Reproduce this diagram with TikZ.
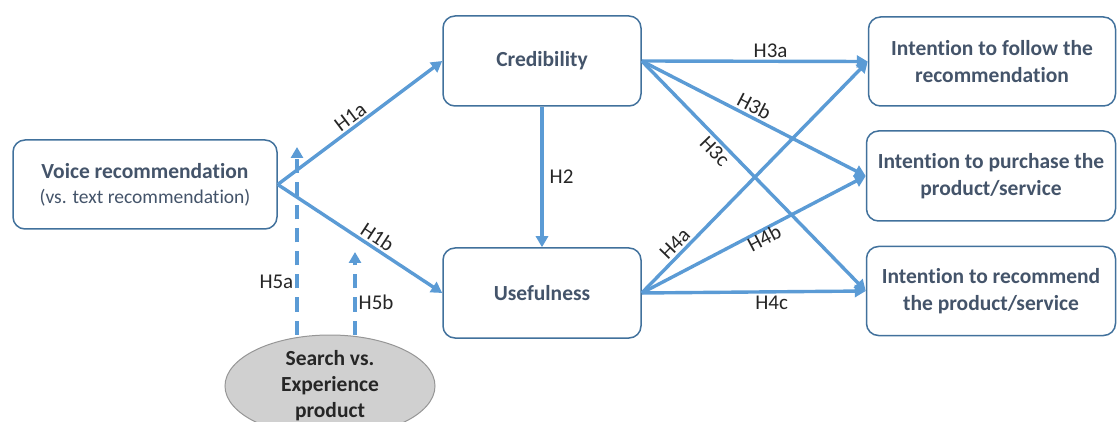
\documentclass[tikz,border=0pt]{standalone}
\usepackage{fontspec}
\setmainfont{Carlito}[Ligatures={NoCommon}]
\usetikzlibrary{arrows.meta, shapes.geometric, positioning}
\definecolor{ArrowBlue}{RGB}{91,155,213}
\definecolor{FrameBlue}{RGB}{65,113,156}
\definecolor{BoxText}{RGB}{68,84,106}
\definecolor{OvalGray}{RGB}{208,208,208}
\definecolor{OvalLine}{RGB}{150,150,150}
\tikzset{
  construct/.style={draw=FrameBlue, line width=1.5pt, rounded corners=12pt, fill=white,
    align=center, text=BoxText, inner sep=0pt,
    font=\bfseries\fontsize{21.5}{27}\selectfont},
  hyparrow/.style={ArrowBlue, line width=3.4pt, -{Triangle[length=11pt,width=12pt]}},
  modarrow/.style={hyparrow, dash pattern=on 14pt off 9pt},
  hyplabel/.style={font=\fontsize{21}{24}\selectfont, text=black!85, inner sep=2pt}
}

\begin{document}
\begin{tikzpicture}[x=1pt, y=-1pt]
  \useasboundingbox (0,0) rectangle (1117,422);
  % constructs
  \node[construct, minimum width=264pt, minimum height=89pt] (voice) at (145,184.5)
    {Voice recommendation\\[-2pt]{\mdseries\fontsize{19.5}{24}\selectfont (vs. text recommendation)}};
  \node[construct, minimum width=198pt, minimum height=90pt] (cred) at (542,61) {Credibility};
  \node[construct, minimum width=198pt, minimum height=90pt] (usef) at (542,293) {Usefulness};
  \node[construct, minimum width=247pt, minimum height=89pt] (follow) at (992,61.5)
    {Intention to follow the\\recommendation};
  \node[construct, minimum width=249pt, minimum height=90pt] (purchase) at (991,176)
    {Intention to purchase the\\product/service};
  \node[construct, minimum width=249pt, minimum height=89pt] (recommend) at (991,291)
    {Intention to recommend\\the product/service};
  % moderator
  \node[ellipse, draw=OvalLine, fill=OvalGray, line width=1pt, minimum width=210pt,
    minimum height=102pt] (prodtype) at (330,386) {};
  \node[align=center, font=\bfseries\fontsize{21.5}{26}\selectfont, text=black!85]
    (prodtext) at (prodtype.center) {Search vs.\\Experience\\product};
  % hypotheses
  \draw[hyparrow] (voice.east) -- node[hyplabel, sloped, above, pos=0.48] (lh1a) {H1a} (cred.west);
  \draw[hyparrow] (voice.east) -- node[hyplabel, sloped, above, pos=0.57] (lh1b) {H1b} (usef.west);
  \draw[hyparrow] (cred.south) -- node[hyplabel, right, xshift=4pt] (lh2) {H2} (usef.north);
  \draw[hyparrow] (cred.east) -- node[hyplabel, above, pos=0.57] (lh3a) {H3a} (follow.west);
  \draw[hyparrow] (cred.east) -- node[hyplabel, sloped, above, pos=0.48] (lh3b) {H3b} (purchase.west);
  \draw[hyparrow] (cred.east) -- node[hyplabel, sloped, below, pos=0.36] (lh3c) {H3c} (recommend.west);
  \draw[hyparrow] (usef.east) -- node[hyplabel, sloped, above, pos=0.18] (lh4a) {H4a} (follow.west);
  \draw[hyparrow] (usef.east) -- node[hyplabel, sloped, below, pos=0.53, yshift=3pt] (lh4b) {H4b} (purchase.west);
  \draw[hyparrow] (usef.east) -- node[hyplabel, below, pos=0.58] (lh4c) {H4c} (recommend.west);
  % moderation
  \coordinate (h5atip) at (297,147);
  \coordinate (h5btip) at (355,252);
  \draw[modarrow] (h5atip |- prodtype.north) -- node[hyplabel, left, pos=0.28] (lh5a) {H5a} (h5atip);
  \draw[modarrow] (h5btip |- prodtype.north) -- node[hyplabel, right, pos=0.39] (lh5b) {H5b} (h5btip);
\end{tikzpicture}
\end{document}
